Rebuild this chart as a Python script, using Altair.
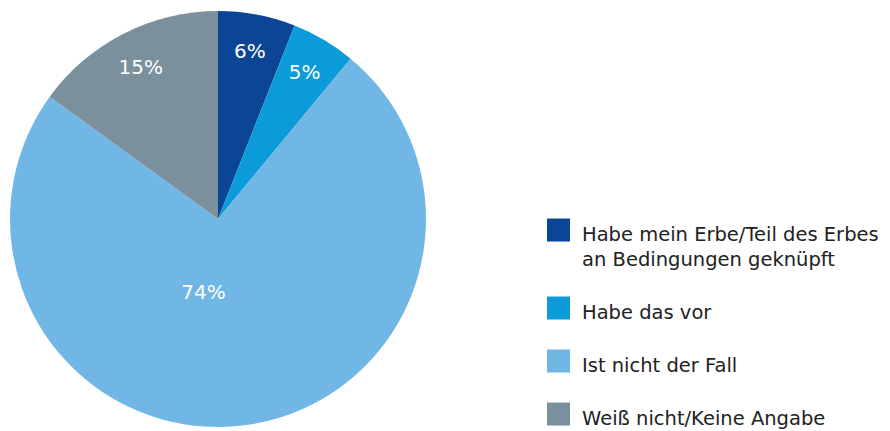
import altair as alt
import pandas as pd

categories = [
    "Habe mein Erbe/Teil des Erbes\nan Bedingungen geknüpft",
    "Habe das vor",
    "Ist nicht der Fall",
    "Weiß nicht/Keine Angabe",
]
values = [6, 5, 74, 15]
labels = ["6%", "5%", "74%", "15%"]
colors = ["#0b4595", "#0a9bd8", "#71b7e5", "#7b909d"]

df = pd.DataFrame({
    "cat": categories,
    "value": values,
    "label": labels,
    "idx": list(range(len(categories))),
})

FONT = "DejaVu Sans"

base = alt.Chart(df).encode(
    theta=alt.Theta("value:Q", stack=True),
    order=alt.Order("idx:Q"),
)

arcs = base.mark_arc(outerRadius=208, stroke=None).encode(
    color=alt.Color(
        "cat:N",
        scale=alt.Scale(domain=categories, range=colors),
        sort=categories,
        legend=alt.Legend(
            title=None,
            orient="none",
            legendX=539,
            legendY=204,
            padding=0,
            symbolType="M-1,-1.39H1V0.61H-1Z",
            symbolSize=529,
            symbolStrokeWidth=0,
            symbolOpacity=1,
            labelFont=FONT,
            labelFontSize=19.5,
            labelColor="#222222",
            labelOffset=12,
            labelLimit=400,
            rowPadding=27,
            labelExpr="split(datum.label, '\\n')",
        ),
    ),
)

small = base.mark_text(
    radius=170, font=FONT, fontSize=20, color="white", align="center", baseline="middle"
).encode(text=alt.condition("datum.value < 50", alt.Text("label:N"), alt.value("")))

big = base.mark_text(
    radius=76, dx=-24, dy=-1, font=FONT, fontSize=20, color="white", align="center", baseline="middle"
).encode(text=alt.condition("datum.value >= 50", alt.Text("label:N"), alt.value("")))

chart = (
    alt.layer(arcs, small, big)
    .properties(
        width=420,
        height=400,
        autosize=alt.AutoSizeParams(type="none"),
        padding={"left": 0, "top": 11, "right": 454, "bottom": 12},
    )
    .configure_view(stroke=None)
    .configure(style={"guide-label": {"lineHeight": 25}})
)

chart.save("out.html", embed_options={"renderer": "svg", "actions": False})
